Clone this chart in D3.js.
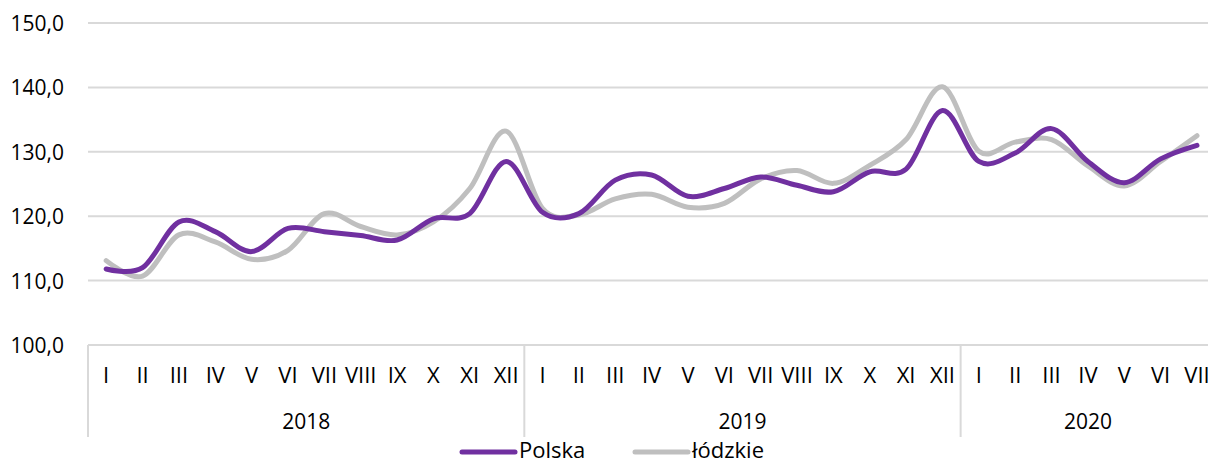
<!DOCTYPE html>
<html><head><meta charset="utf-8">
<script src="https://cdn.jsdelivr.net/npm/d3@7"></script>
<style>
html,body{margin:0;padding:0;background:#fff;overflow:hidden}
svg{display:block}
text{font-family:"Open Sans","Noto Sans",sans-serif;fill:#000}
</style></head><body>
<svg id="c" width="1208" height="461"></svg>
<script>
const years = ["2018","2019","2020"];
const monthsPerYear = [12,12,7];
const monthLabels = ["I","II","III","IV","V","VI","VII","VIII","IX","X","XI","XII"];
const polska = [111.8,112.0,119.1,117.6,114.5,118.1,117.6,117.0,116.3,119.6,120.4,128.5,
                120.6,120.4,125.6,126.4,123.1,124.3,126.1,124.8,123.8,126.9,127.3,136.4,
                128.5,129.8,133.6,128.5,125.2,128.9,131.0];
const lodzkie = [113.1,110.7,117.1,116.0,113.3,114.7,120.4,118.4,117.1,119.1,124.3,133.2,
                 121.2,120.2,122.7,123.4,121.4,122.0,125.8,127.1,125.1,127.9,131.9,140.1,
                 130.1,131.5,131.9,127.8,124.7,128.5,132.5];
const seriesNames = ["Polska","łódzkie"];
const yTicks = [100,110,120,130,140,150];

const colors = ["#7030A0","#BFBFBF"];
const svg = d3.select("#c");
const mLeft = 88, mRight = 88 + 31*36.36, mTop = 23, mBottom = 345;

const keys = [];
years.forEach((yr,yi)=>{ for(let m=0;m<monthsPerYear[yi];m++) keys.push(yr+"-"+m); });

const x = d3.scaleBand().domain(keys).range([mLeft,mRight]);
const y = d3.scaleLinear().domain([100,150]).range([mBottom,mTop]);

// gridlines
svg.append("g").selectAll("line").data(yTicks).join("line")
  .attr("x1",mLeft).attr("x2",1208)
  .attr("y1",d=>y(d)).attr("y2",d=>y(d))
  .attr("stroke","#D9D9D9").attr("stroke-width",2);

// y labels
svg.append("g").selectAll("text").data(yTicks).join("text")
  .attr("x",64).attr("y",d=>y(d)+8)
  .attr("text-anchor","end").attr("font-size",21)
  .text(d=>d3.format(".1f")(d).replace(".",","));

// year separators
let cum = 0; const bounds=[mLeft];
monthsPerYear.forEach(n=>{ cum+=n; bounds.push(x(keys[cum-1])+x.bandwidth()); });
svg.append("g").selectAll("line").data(bounds.slice(0,3)).join("line")
  .attr("x1",d=>d).attr("x2",d=>d).attr("y1",mBottom).attr("y2",437)
  .attr("stroke","#D9D9D9").attr("stroke-width",2);

// month labels
svg.append("g").selectAll("text").data(keys).join("text")
  .attr("x",d=>x(d)+x.bandwidth()/2).attr("y",383)
  .attr("text-anchor","middle").attr("font-size",22)
  .text(d=>monthLabels[+d.split("-")[1]]);

// year labels
let acc=0;
const yearPos = years.map((yr,i)=>{ const a=acc; acc+=monthsPerYear[i];
  return {yr, cx:(x(keys[a]) + x(keys[acc-1])+x.bandwidth())/2}; });
svg.append("g").selectAll("text").data(yearPos).join("text")
  .attr("x",d=>d.cx).attr("y",429).attr("text-anchor","middle").attr("font-size",21)
  .text(d=>d.yr);

// lines
const line = d3.line().x((d,i)=>x(keys[i])+x.bandwidth()/2).y(d=>y(d))
  .curve(d3.curveCardinal.tension(0));
[lodzkie, polska].forEach((s,k)=>{
  svg.append("path").datum(s).attr("d",line).attr("fill","none")
    .attr("stroke", k===0?colors[1]:colors[0]).attr("stroke-width",5)
    .attr("stroke-linecap","round").attr("stroke-linejoin","round");
});

// legend
const lg = [{n:seriesNames[0],c:colors[0],x:462},{n:seriesNames[1],c:colors[1],x:635}];
lg.forEach(d=>{
  svg.append("line").attr("x1",d.x).attr("x2",d.x+53).attr("y1",452).attr("y2",452)
    .attr("stroke",d.c).attr("stroke-width",5).attr("stroke-linecap","round");
  svg.append("text").attr("x",d.x+57).attr("y",458).attr("font-size",22).text(d.n);
});
</script></body></html>
